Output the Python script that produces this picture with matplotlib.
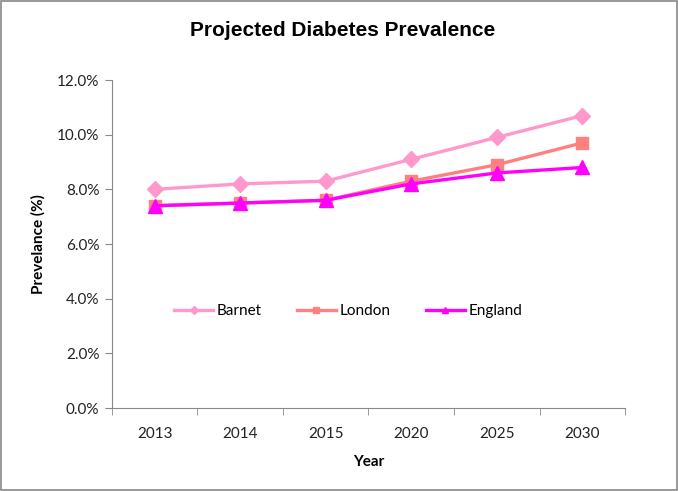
import matplotlib.pyplot as plt
from matplotlib.ticker import FuncFormatter, FixedLocator
from matplotlib.patches import Rectangle

years = ['2013', '2014', '2015', '2020', '2025', '2030']
barnet = [8.0, 8.2, 8.3, 9.1, 9.9, 10.7]
london = [7.4, 7.5, 7.6, 8.3, 8.9, 9.7]
england = [7.4, 7.5, 7.6, 8.2, 8.6, 8.8]

fig = plt.figure(figsize=(6.78, 4.91), dpi=100)
ax = fig.add_axes([0.165, 0.169, 0.757, 0.668])

x = list(range(len(years)))
ax.plot(x, barnet, color='#FF99CC', lw=2.4, marker='D', ms=8, label='Barnet')
ax.plot(x, london, color='#FF8080', lw=2.4, marker='s', ms=9, label='London')
ax.plot(x, england, color='#FF00FF', lw=2.4, marker='^', ms=10, label='England')

ax.set_xlim(-0.5, len(years) - 0.5)
ax.set_ylim(0, 12)
ax.set_yticks([0, 2, 4, 6, 8, 10, 12])
ax.yaxis.set_major_formatter(FuncFormatter(lambda v, p: f'{v:.1f}%'))
ax.set_xticks(x)
ax.set_xticklabels(years)
ax.xaxis.set_minor_locator(FixedLocator([i - 0.5 for i in range(len(years) + 1)]))
ax.tick_params(axis='x', which='major', length=0, pad=14)
ax.tick_params(axis='x', which='minor', length=5, color='#888888', direction='out')
ax.tick_params(axis='y', length=5, color='#888888', direction='out', pad=4)
for lab in ax.get_xticklabels() + ax.get_yticklabels():
    lab.set_family('Lato')
    lab.set_fontsize(11)
    lab.set_color('#222222')

for s in ['top', 'right']:
    ax.spines[s].set_visible(False)
for s in ['left', 'bottom']:
    ax.spines[s].set_color('#888888')

ax.set_xlabel('Year', fontsize=11, fontweight='bold', family='Lato', labelpad=10)
ax.set_ylabel('Prevelance (%)', fontsize=11, fontweight='bold', family='Lato', labelpad=8)
fig.text(0.505, 0.937, 'Projected Diabetes Prevalence', ha='center', va='center',
         fontsize=15, fontweight='bold', family='Liberation Sans')

leg = ax.legend(loc='center', bbox_to_anchor=(0.46, 0.295), ncol=3, frameon=False,
                prop={'family': 'Lato', 'size': 11}, handlelength=2.6,
                columnspacing=2.3, handletextpad=0.2, markerscale=0.5)

fig.add_artist(Rectangle((0.002, 0.002), 0.996, 0.996, transform=fig.transFigure,
                         fill=False, edgecolor='#888888', lw=1.2))

fig.savefig('out.png', dpi=100)
